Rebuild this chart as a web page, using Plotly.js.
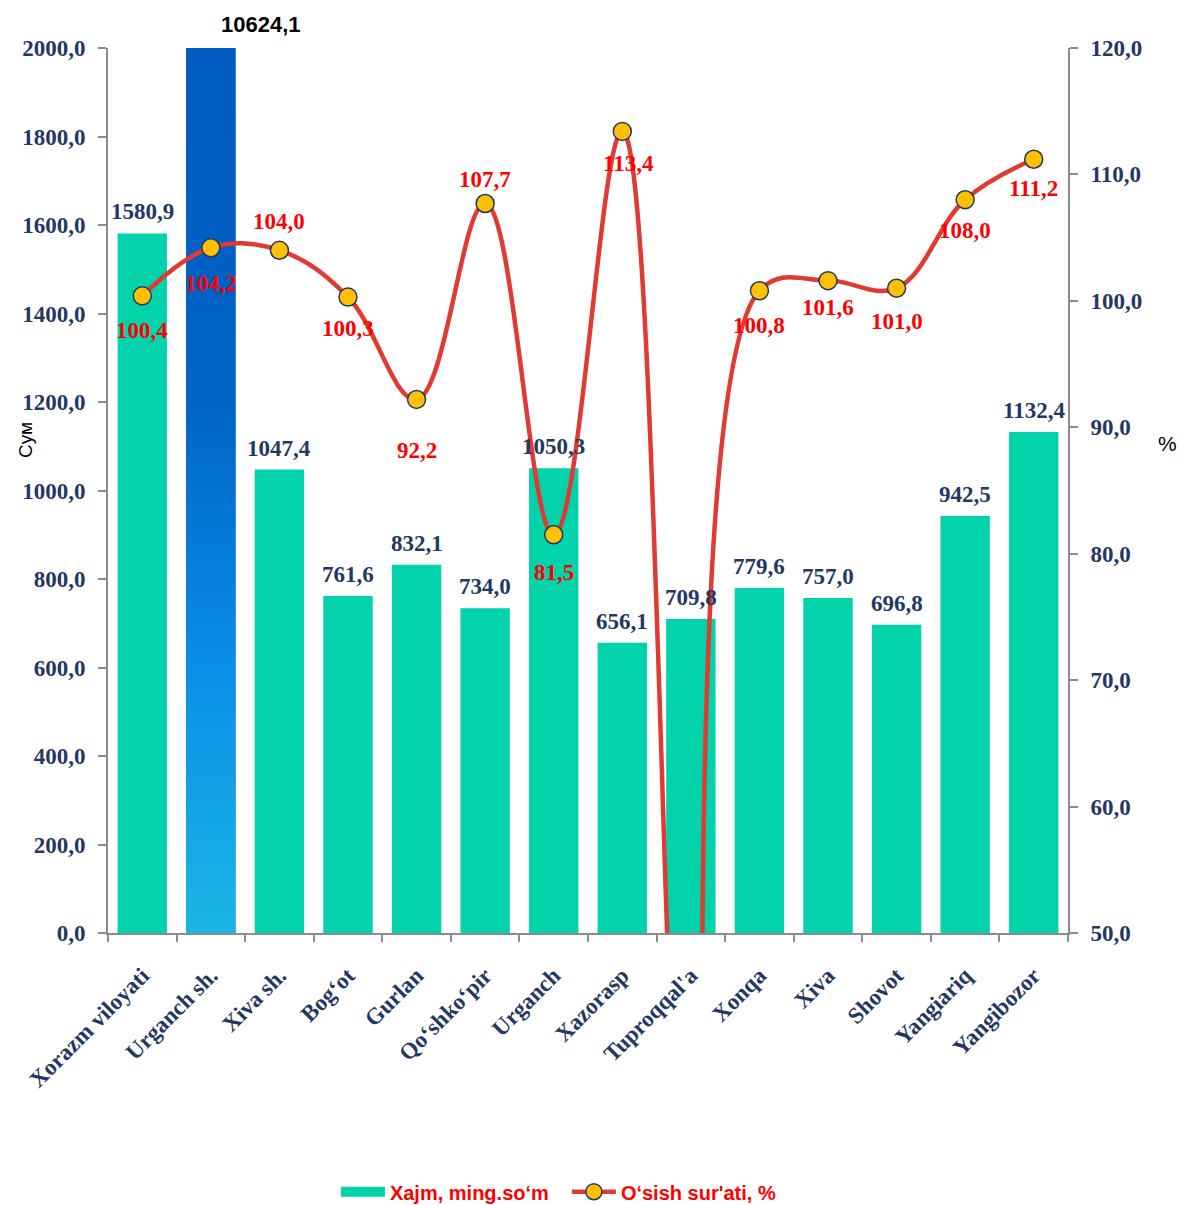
<!DOCTYPE html>
<html>
<head>
<meta charset="utf-8">
<script src="https://cdn.plot.ly/plotly-3.0.1.min.js"></script>
<style>html,body{margin:0;padding:0;background:#fff;}#chart{width:1181px;height:1205px;}</style>
</head>
<body>
<div id="chart"></div>
<script>
const categories = ["Xorazm viloyati", "Urganch sh.", "Xiva sh.", "Bog‘ot", "Gurlan", "Qo‘shko‘pir", "Urganch", "Xazorasp", "Tuproqqal'a", "Xonqa", "Xiva", "Shovot", "Yangiariq", "Yangibozor"];
const volume = [1580.9, 10624.1, 1047.4, 761.6, 832.1, 734.0, 1050.3, 656.1, 709.8, 779.6, 757.0, 696.8, 942.5, 1132.4];
const growth = [100.4, 104.2, 104.0, 100.3, 92.2, 107.7, 81.5, 113.4, 20.0, 100.8, 101.6, 101.0, 108.0, 111.2];
const growthLabelShift = [-35, -36, 29, -31, -51, 24, -38, -32, 0, -35, -27, -33, -31, -29];
const growthLabelXShift = [0, 0, 0, 0, 0, 0, 0, 6, 0, 0, 0, 0, 0, 0];
const leftTicks = [0, 200, 400, 600, 800, 1000, 1200, 1400, 1600, 1800, 2000];
const rightTicks = [50, 60, 70, 80, 90, 100, 110, 120];
const seriesNames = ["Xajm, ming.so‘m", "O‘sish sur'ati, %"];

const yMax = leftTicks[leftTicks.length - 1];
const y2Min = rightTicks[0], y2Max = rightTicks[rightTicks.length - 1];
const idx = categories.map((c, i) => i);
const fmt = v => v.toFixed(1).replace('.', ',');
const barW = 0.72;
const teal = '#02d3ab';
const navy = '#1f3864';
const serif = 'Liberation Serif, Times New Roman, serif';
const sans = 'Liberation Sans, Arial, sans-serif';

const barColors = volume.map(v => v > yMax ? '#0a6fd0' : teal);

const traces = [];
traces.push({
  type: 'bar', x: idx, y: volume, width: barW, name: seriesNames[0],
  marker: {color: barColors, line: {width: 0}}, showlegend: false, hoverinfo: 'x+y'
});
// legend swatch for the bar series (wide rectangle as in the original legend)
traces.push({
  type: 'scatter', mode: 'lines', x: [null], y: [null], name: seriesNames[0],
  line: {color: teal, width: 12}, showlegend: true, hoverinfo: 'skip'
});
// gradient overlay for bars that exceed the axis
volume.forEach((v, i) => {
  if (v > yMax) {
    traces.push({
      type: 'scatter', mode: 'lines', x: [i - barW/2, i + barW/2, i + barW/2, i - barW/2, i - barW/2],
      y: [0, 0, yMax, yMax, 0], fill: 'toself', line: {width: 0, color: 'rgba(0,0,0,0)'},
      fillcolor: '#0a6fd0',
      fillgradient: {type: 'vertical', colorscale: [[0, '#1ab6e4'], [0.3, '#0a8ee8'], [0.6, '#0064c6'], [1, '#005abf']]},
      showlegend: false, hoverinfo: 'skip'
    });
  }
});
traces.push({
  type: 'scatter', mode: 'lines+markers', x: idx, y: growth, yaxis: 'y2', name: seriesNames[1],
  line: {color: '#e03a32', width: 4.5, shape: 'spline', smoothing: 1.1},
  marker: {color: '#ffc000', size: 18, line: {color: navy, width: 1.5}},
  cliponaxis: true, hoverinfo: 'x+y'
});

const annotations = [];
volume.forEach((v, i) => {
  const over = v > yMax;
  annotations.push({
    x: i, y: Math.min(v, yMax), xref: 'x', yref: 'y', text: fmt(v), showarrow: false,
    yanchor: 'bottom', yshift: over ? 9 : 7, xshift: over ? 50 : 0,
    font: over ? {family: sans, size: 22, color: '#000', weight: 'bold'} : {family: serif, size: 23, color: navy, weight: 'bold'}
  });
});
growth.forEach((g, i) => {
  if (g < y2Min || g > y2Max) return;
  annotations.push({
    x: i, y: g, xref: 'x', yref: 'y2', text: fmt(g), showarrow: false,
    yanchor: 'middle', yshift: growthLabelShift[i], xshift: growthLabelXShift[i],
    font: {family: serif, size: 23, color: '#ff0000', weight: 'bold'}
  });
});
annotations.push({
  text: 'Сум', xref: 'paper', yref: 'paper', x: -0.0865, y: 0.557, xanchor: 'center', yanchor: 'middle',
  showarrow: false, textangle: -90,
  font: {family: sans, size: 19, color: '#000'}
});
annotations.push({
  text: '%', xref: 'paper', yref: 'paper', x: 1.104, y: 0.553, xanchor: 'center', yanchor: 'middle',
  showarrow: false,
  font: {family: sans, size: 21, color: '#000'}
});

const layout = {
  width: 1181, height: 1205,
  margin: {l: 108, r: 113, t: 48, b: 272},
  paper_bgcolor: '#fff', plot_bgcolor: '#fff',
  showlegend: true,
  legend: {orientation: 'h', x: 0.478, xanchor: 'center', yref: 'container', y: 0.011, yanchor: 'middle',
    font: {family: sans, size: 20, color: '#ff0000', weight: 'bold'}, itemwidth: 44,
    entrywidth: 172, entrywidthmode: 'pixels'},
  xaxis: {
    range: [-0.5, categories.length - 0.5], tickvals: idx, ticktext: categories, tickangle: -45,
    ticks: '', showgrid: false, zeroline: false, showline: true, linecolor: '#8c8c8c', linewidth: 2,
    tickfont: {family: serif, size: 23, color: navy, weight: 'bold'}, ticklabelstandoff: 18,
    minor: {tickvals: idx.concat([categories.length]).map(i => i - 0.5), ticks: 'outside', ticklen: 7, tickcolor: '#8c8c8c', tickwidth: 2, showgrid: false},
    automargin: false
  },
  yaxis: {
    range: [0, yMax], tickvals: leftTicks, ticktext: leftTicks.map(fmt), ticks: 'outside', ticklen: 8,
    tickcolor: '#8c8c8c', tickwidth: 2, showline: true, linecolor: '#8c8c8c', linewidth: 2,
    showgrid: false, zeroline: false, ticklabelstandoff: 8, automargin: false,
    tickfont: {family: serif, size: 23, color: navy, weight: 'bold'}
  },
  yaxis2: {
    overlaying: 'y', side: 'right', range: [y2Min, y2Max], tickvals: rightTicks, ticktext: rightTicks.map(fmt),
    ticks: 'outside', ticklen: 8, tickcolor: '#8c8c8c', tickwidth: 2, showline: true, linecolor: '#8c8c8c', linewidth: 2,
    showgrid: false, zeroline: false, ticklabelstandoff: 8, automargin: false,
    tickfont: {family: serif, size: 23, color: navy, weight: 'bold'}
  },
  annotations: annotations
};

Plotly.newPlot('chart', traces, layout, {displayModeBar: false, staticPlot: true});
</script>
</body>
</html>
